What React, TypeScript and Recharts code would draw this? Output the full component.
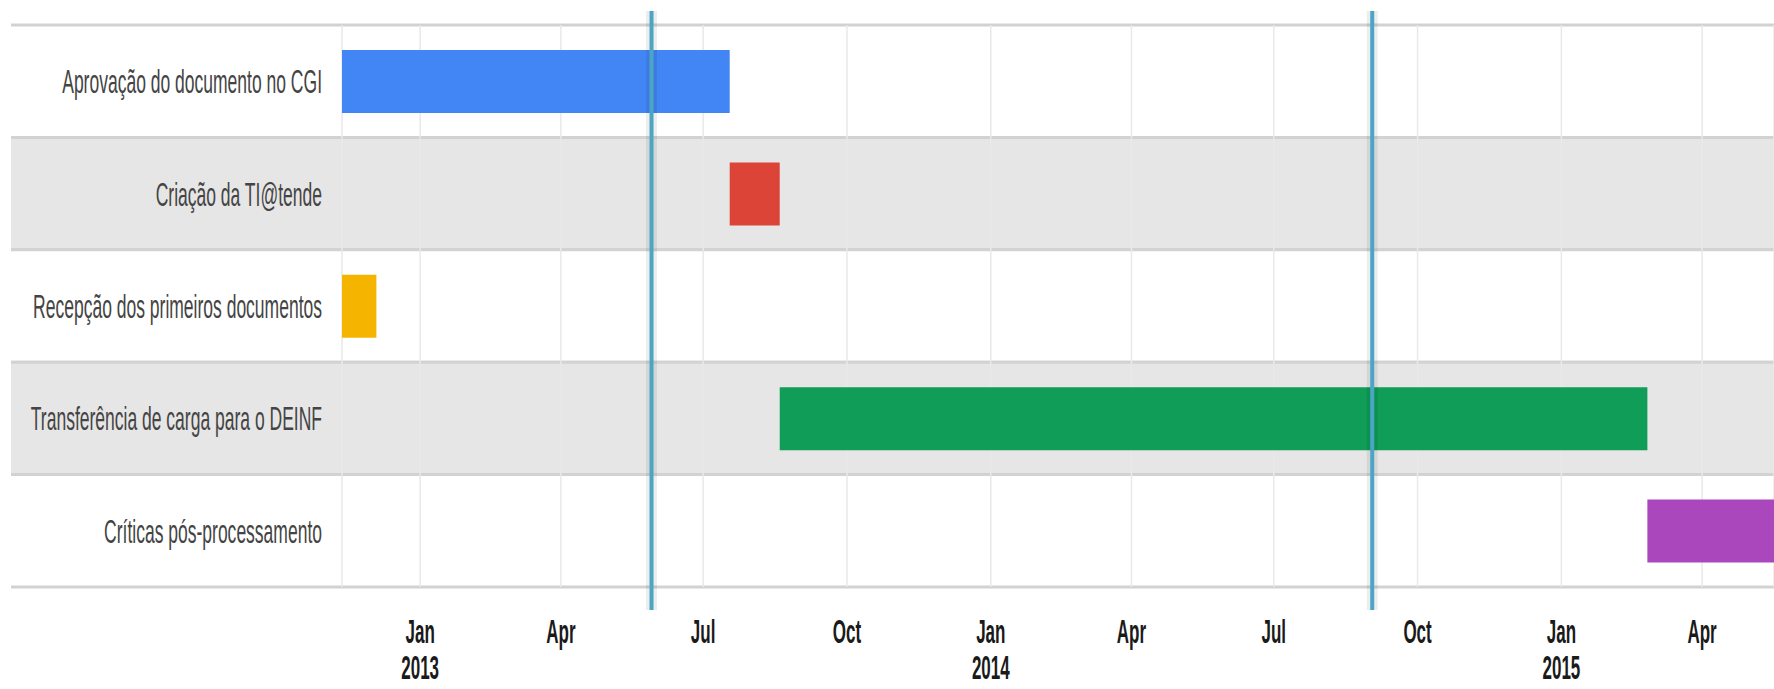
import React from 'react';
import {
  BarChart,
  Bar,
  XAxis,
  YAxis,
  CartesianGrid,
  ReferenceArea,
  ReferenceLine,
  Cell,
} from 'recharts';

const DAY = 86400000;
const toDay = (s: string) => Math.round(Date.parse(s + 'T00:00:00Z') / DAY);

// timeline rows
const tasks = [
  'Aprovação do documento no CGI',
  'Criação da TI@tende',
  'Recepção dos primeiros documentos',
  'Transferência de carga para o DEINF',
  'Críticas pós-processamento',
];
const starts = ['2012-11-12', '2013-07-18', '2012-11-12', '2013-08-19', '2015-02-25'];
const ends = ['2013-07-18', '2013-08-19', '2012-12-04', '2015-02-25', '2015-06-30'];
const colors = ['#4285f4', '#db4437', '#f4b400', '#0f9d58', '#ab47bc'];

// vertical markers
const markerDates = ['2013-05-29', '2014-09-02'];

// axis
const domainDates = ['2012-11-12', '2015-05-17'];
const tickDates = [
  '2012-11-12', '2013-01-01', '2013-04-01', '2013-07-01', '2013-10-01',
  '2014-01-01', '2014-04-01', '2014-07-01', '2014-10-01', '2015-01-01', '2015-04-01',
];
const tickMonths = ['', 'Jan', 'Apr', 'Jul', 'Oct', 'Jan', 'Apr', 'Jul', 'Oct', 'Jan', 'Apr'];
const tickYears = ['', '2013', '', '', '', '2014', '', '', '', '2015', ''];

const data = tasks.map((name, i) => ({
  name,
  start: toDay(starts[i]),
  end: toDay(ends[i]),
  color: colors[i],
}));
const ticks = tickDates.map(toDay);

const LEFT = 11;
const FONT = '"Liberation Sans", Arial, sans-serif';

const Band = (props: any) => {
  const { x, y, width, height, fill } = props;
  return (
    <g>
      <rect x={LEFT} y={y} width={x + width - LEFT} height={height} fill={fill} />
      <line x1={LEFT} x2={x + width} y1={y} y2={y} stroke="#d2d2d2" strokeWidth={3} />
      <line x1={LEFT} x2={x + width} y1={y + height} y2={y + height} stroke="#d2d2d2" strokeWidth={3} />
    </g>
  );
};

const Marker = (props: any) => {
  const { x1, y1, y2 } = props;
  const top = Math.min(y1, y2) - 14;
  const bottom = Math.max(y1, y2) + 23;
  return (
    <g>
      <line x1={x1} x2={x1} y1={top} y2={bottom} stroke="rgba(0,0,0,0.07)" strokeWidth={11} />
      <line x1={x1} x2={x1} y1={top} y2={bottom} stroke="#4ba6c6" strokeWidth={4} />
    </g>
  );
};

const CategoryTick = (props: any) => {
  const { x, y, payload } = props;
  return (
    <text
      x={0}
      y={0}
      transform={`translate(${x},${y + 12}) scale(0.515,1)`}
      textAnchor="end"
      fontFamily={FONT}
      fontSize={34}
      fill="#444"
    >
      {payload.value}
    </text>
  );
};

const DateTick = (props: any) => {
  const { x, y, index } = props;
  return (
    <g transform={`translate(${x},${y})`}>
      <text
        transform="translate(0,54) scale(0.5,1)"
        textAnchor="middle"
        fontFamily={FONT}
        fontSize={34}
        fontWeight="bold"
        fill="#1a1a1a"
      >
        {tickMonths[index]}
      </text>
      <text
        transform="translate(0,90) scale(0.5,1)"
        textAnchor="middle"
        fontFamily={FONT}
        fontSize={34}
        fontWeight="bold"
        fill="#1a1a1a"
      >
        {tickYears[index]}
      </text>
    </g>
  );
};

export default function App() {
  return (
    <div
      style={{
        position: 'absolute',
        left: 0,
        top: 0,
        width: 1774,
        height: 689,
        overflow: 'hidden',
        background: '#fff',
      }}
    >
      <BarChart
        width={1774}
        height={689}
        data={data}
        layout="vertical"
        margin={{ top: 25, right: 0, bottom: 0, left: LEFT }}
      >
        {data.map((d, i) => (
          <ReferenceArea
            key={d.name}
            y1={d.name}
            y2={d.name}
            ifOverflow="visible"
            zIndex={-200}
            shape={(p: any) => <Band {...p} fill={i % 2 ? '#e6e6e6' : '#ffffff'} />}
          />
        ))}
        <CartesianGrid horizontal={false} stroke="#e9e9e9" strokeWidth={1.5} />
        <Bar dataKey={(d: any) => [d.start, d.end]} barSize={63} isAnimationActive={false}>
          {data.map((d) => (
            <Cell key={d.name} fill={d.color} />
          ))}
        </Bar>
        {markerDates.map((m) => (
          <ReferenceLine
            key={m}
            x={toDay(m)}
            ifOverflow="visible"
            shape={(p: any) => <Marker {...p} />}
          />
        ))}
        <YAxis
          type="category"
          dataKey="name"
          width={342 - LEFT}
          axisLine={false}
          tickLine={false}
          tickSize={0}
          tickMargin={20}
          interval={0}
          tick={<CategoryTick />}
        />
        <XAxis
          type="number"
          domain={domainDates.map(toDay)}
          ticks={ticks}
          allowDataOverflow
          height={102}
          axisLine={false}
          tickLine={false}
          tickSize={0}
          interval={0}
          tick={<DateTick />}
        />
      </BarChart>
    </div>
  );
}
